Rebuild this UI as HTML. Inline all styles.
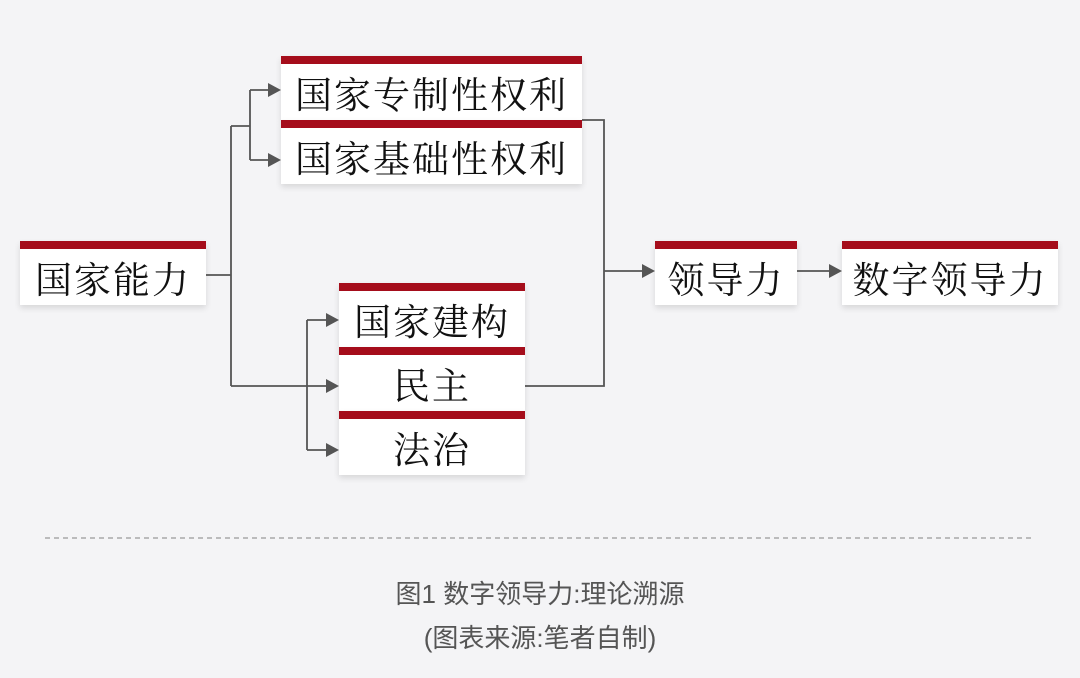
<!DOCTYPE html>
<html><head><meta charset="utf-8"><style>
body{margin:0;width:1080px;height:678px;background:#f4f4f6;position:relative;overflow:hidden;font-family:"Liberation Serif","Noto Serif CJK SC",serif}
.b{position:absolute;background:#fff;box-shadow:0 3px 6px rgba(0,0,0,0.12);border-top:8px solid #a50d1b;box-sizing:border-box;text-align:center;color:#111;font-size:37px;letter-spacing:2px;padding-top:5px}
.c{position:absolute;width:1080px;text-align:center;color:#555;font-family:"Liberation Sans","Noto Sans CJK SC",sans-serif;font-size:26px}
svg{position:absolute;left:0;top:0}
</style></head><body>
<svg width="1080" height="678">
<g stroke="#555" stroke-width="1.8" fill="none">
<path d="M206 275H231M231 126V386M231 126H250M250 90V160M250 90H268M250 160H268M231 386H326M307 320V450M307 320H326M307 450H326"/>
<path d="M582 120H604V386H525M604 271H642M797 271H829"/>
</g>
<g fill="#555">
<path d="M281 90l-13-7v14zM281 160l-13-7v14zM339 320l-13-7v14zM339 386l-13-7v14zM339 450l-13-7v14zM655 271l-13-7v14zM842 271l-13-7v14z"/>
</g>
<line x1="45" y1="538" x2="1035" y2="538" stroke="#999" stroke-width="1.2" stroke-dasharray="5,4"/>
</svg>
<div class="b" style="left:20px;top:241px;width:186px;height:64px;line-height:56px">国家能力</div>
<div class="b" style="left:281px;top:56px;width:301px;height:64px;line-height:56px">国家专制性权利</div>
<div class="b" style="left:281px;top:120px;width:301px;height:64px;line-height:56px">国家基础性权利</div>
<div class="b" style="left:339px;top:283px;width:186px;height:64px;line-height:56px">国家建构</div>
<div class="b" style="left:339px;top:347px;width:186px;height:64px;line-height:56px">民主</div>
<div class="b" style="left:339px;top:411px;width:186px;height:64px;line-height:56px">法治</div>
<div class="b" style="left:655px;top:241px;width:142px;height:64px;line-height:56px">领导力</div>
<div class="b" style="left:842px;top:241px;width:216px;height:64px;line-height:56px">数字领导力</div>
<div class="c" style="top:574px">图1 数字领导力:理论溯源</div>
<div class="c" style="top:618px">(图表来源:笔者自制)</div>
</body></html>
